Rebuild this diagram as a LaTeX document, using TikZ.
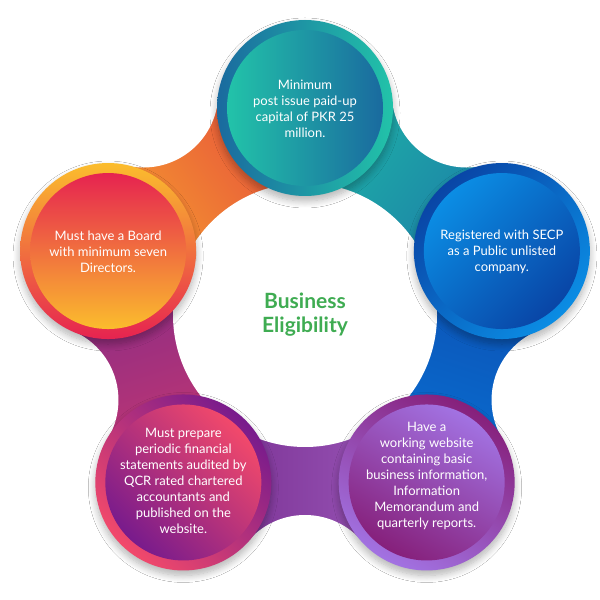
\documentclass[tikz,border=0pt]{standalone}
\usepackage{fontspec}
\setmainfont{Lato}
\usetikzlibrary{calc,shadows.blur}
% band colours
\definecolor{bOrange}{HTML}{F7A52C}
\definecolor{bRed}{HTML}{E4433F}
\definecolor{bTeal}{HTML}{1FBBA8}
\definecolor{bTealBlue}{HTML}{1B76A6}
\definecolor{bBlueA}{HTML}{0B4CAE}
\definecolor{bBlueB}{HTML}{0A72D6}
\definecolor{bPurpDark}{HTML}{742A8C}
\definecolor{bPurpLight}{HTML}{9F5CBE}
\definecolor{bPink}{HTML}{CC386E}
\definecolor{bPlum}{HTML}{7E2A8A}
% circle colours
\definecolor{tBlue}{HTML}{1A6A9F}
\definecolor{tTeal}{HTML}{22C3A9}
\definecolor{rDark}{HTML}{0945A6}
\definecolor{rLight}{HTML}{0B8DE4}
\definecolor{lYellow}{HTML}{FBBD2D}
\definecolor{lRed}{HTML}{E62350}
\definecolor{blPurple}{HTML}{781B8C}
\definecolor{blPink}{HTML}{F2496B}
\definecolor{brMag}{HTML}{86207B}
\definecolor{brLav}{HTML}{A272E2}
\definecolor{titleGreen}{HTML}{3FAC52}
\tikzset{
  cshadow/.style={blur shadow={shadow xshift=0pt, shadow yshift=-5pt, shadow blur radius=7pt, shadow blur steps=10, shadow opacity=30}},
  ctext/.style={text=white, align=center, font=\fontsize{13}{16}\selectfont},
}
\begin{document}
\begin{tikzpicture}[x=1pt,y=1pt]
\useasboundingbox (0,0) rectangle (600,600);
\fill[white] (0,0) rectangle (600,600);
\coordinate (C) at (305,285);
\coordinate (ctop) at ($(C)+(90:207pt)$);
\coordinate (cright) at ($(C)+(18:207pt)$);
\coordinate (cbr) at ($(C)+(-54:207pt)$);
\coordinate (cbl) at ($(C)+(-126:207pt)$);
\coordinate (cleft) at ($(C)+(162:207pt)$);
% band
\begin{scope}
\clip (C) circle (233pt);
\begin{scope}
\clip (C) -- +(162:300pt) -- +(90:300pt) -- cycle;
\shade[top color=bOrange, bottom color=bRed, shading angle=126] ($(C)+(126:167pt)$) circle (125pt);
\end{scope}
\begin{scope}
\clip (C) -- +(90:300pt) -- +(18:300pt) -- cycle;
\shade[top color=bTeal, bottom color=bTealBlue, shading angle=54] ($(C)+(54:167pt)$) circle (125pt);
\end{scope}
\begin{scope}
\clip (C) -- +(18:300pt) -- +(-54:300pt) -- cycle;
\shade[top color=bBlueA, bottom color=bBlueB, shading angle=-18] ($(C)+(-18:167pt)$) circle (125pt);
\end{scope}
\begin{scope}
\clip (C) -- +(-54:300pt) -- +(-126:300pt) -- cycle;
\shade[left color=bPurpDark, right color=bPurpLight] ($(C)+(-90:167pt)$) circle (125pt);
\end{scope}
\begin{scope}
\clip (C) -- +(-126:300pt) -- +(162:300pt) -- cycle;
\shade[top color=bPink, bottom color=bPlum, shading angle=-162] ($(C)+(198:167pt)$) circle (125pt);
\end{scope}
\end{scope}
% white cut-outs
\foreach \a in {126,54,-18,-90,198}{
  \fill[white] ($(C)+(\a:275pt)$) circle (75pt);
}
\fill[white] (C) circle (132pt);
% circles
\path[cshadow, left color=tBlue, right color=tTeal] (ctop) circle (88pt);
\shade[left color=tTeal, right color=tBlue] (ctop) circle (78pt);
\path[cshadow, top color=rDark, bottom color=rLight, shading angle=45] (cright) circle (88pt);
\shade[top color=rLight, bottom color=rDark, shading angle=45] (cright) circle (78pt);
\path[cshadow, top color=brMag, bottom color=brLav, shading angle=-30] (cbr) circle (88pt);
\shade[top color=brLav, bottom color=brMag, shading angle=-30] (cbr) circle (78pt);
\path[cshadow, top color=blPurple, bottom color=blPink, shading angle=-45] (cbl) circle (88pt);
\shade[top color=blPink, bottom color=blPurple, shading angle=-45] (cbl) circle (78pt);
\path[cshadow, top color=lYellow, bottom color=lRed] (cleft) circle (88pt);
\shade[top color=lRed, bottom color=lYellow] (cleft) circle (78pt);
% texts
\node[ctext] (ttop) at ($(ctop)+(0,-1)$) {Minimum\\post issue paid-up\\capital of PKR 25\\million.};
\node[ctext] (tright) at ($(cright)+(0,-1)$) {Registered with SECP\\as a Public unlisted\\company.};
\node[ctext] (tleft) at ($(cleft)+(0,-1)$) {Must have a Board\\with minimum seven\\Directors.};
\node[ctext] (tbl) at ($(cbl)+(0,2)$) {Must prepare\\periodic financial\\statements audited by\\QCR rated chartered\\accountants and\\published on the\\website.};
\node[ctext] (tbr) at ($(cbr)+(0,7)$) {Have a\\working website\\containing basic\\business information,\\Information\\Memorandum and\\quarterly reports.};
\node[text=titleGreen, align=center, font=\bfseries\fontsize{21}{24}\selectfont] (title) at (C) {Business\\Eligibility};
\end{tikzpicture}
\end{document}
